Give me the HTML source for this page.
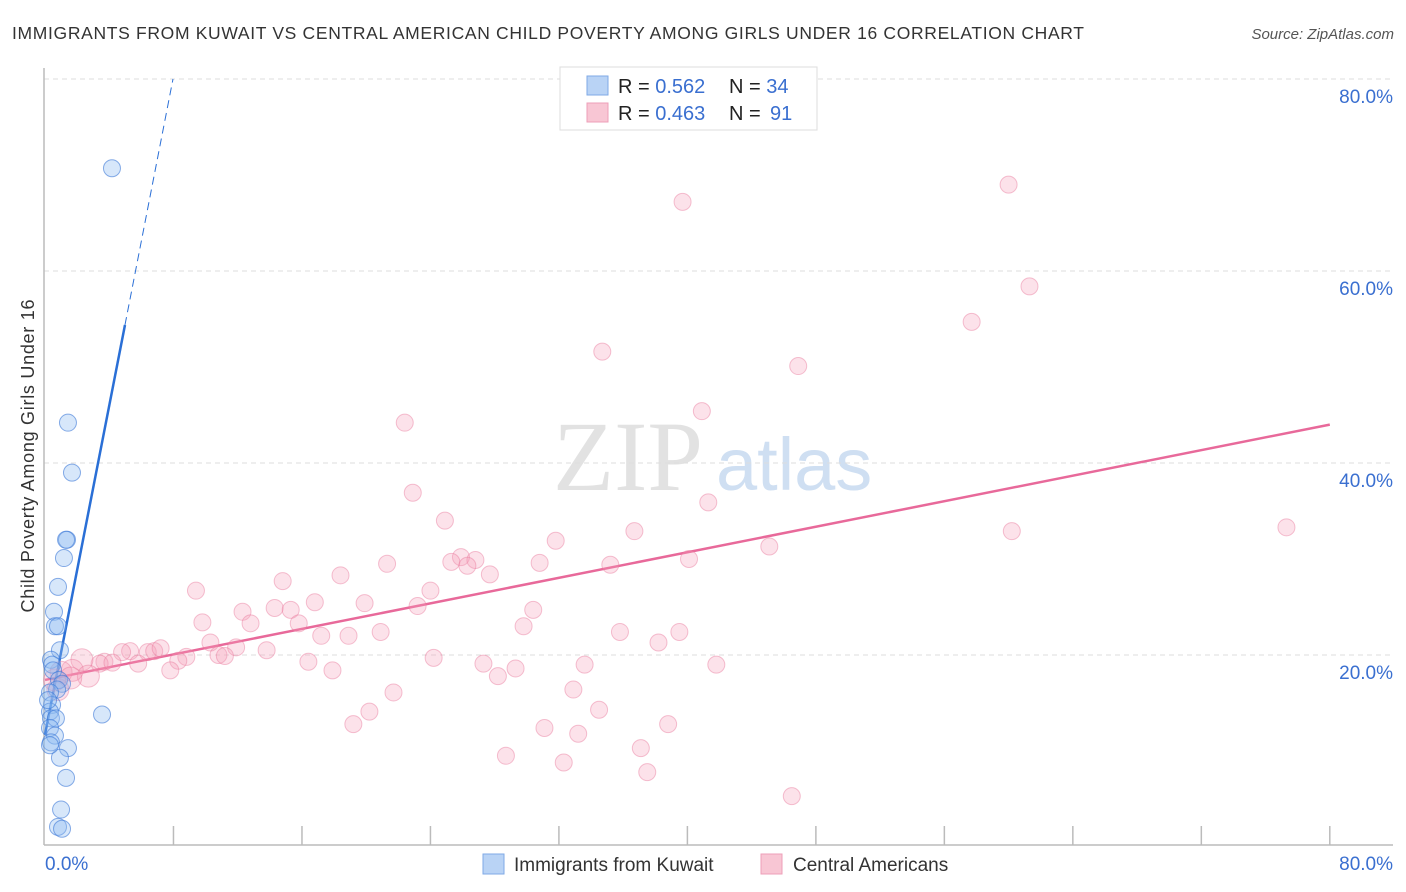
<!DOCTYPE html>
<html><head><meta charset="utf-8"><style>
body{margin:0;background:#fff;font-family:"Liberation Sans",sans-serif;}
#wrap{position:relative;width:1406px;height:892px;overflow:hidden;}
</style></head><body>
<div id="wrap">
<svg id="svg" width="1406" height="892" xmlns="http://www.w3.org/2000/svg">
<text x="12" y="39" font-size="17.5" fill="#333" textLength="1072" lengthAdjust="spacing">IMMIGRANTS FROM KUWAIT VS CENTRAL AMERICAN CHILD POVERTY AMONG GIRLS UNDER 16 CORRELATION CHART</text>
<text x="1394" y="39" font-size="15" fill="#555" font-style="italic" text-anchor="end">Source: ZipAtlas.com</text>
<text x="34" y="456" font-size="18" fill="#333" text-anchor="middle" textLength="313" lengthAdjust="spacing" transform="rotate(-90 34 456)">Child Poverty Among Girls Under 16</text>
<g>
<text x="553" y="490" font-size="100" fill="#e2e2e2" font-family="Liberation Serif,serif">ZIP</text>
<text x="716" y="490" font-size="74" fill="#cfdff2">atlas</text>
</g>
<g id="grid"></g><g id="axes"></g><g id="lines"></g><g id="pts"></g>
<g>
<rect x="560" y="67" width="257" height="63" fill="#fff" stroke="#ddd"/>
<rect x="587" y="76" width="21" height="19" fill="#b9d3f5" stroke="#7fa9e6"/>
<rect x="587" y="103" width="21" height="19" fill="#f8c6d4" stroke="#ee9fb8"/>
<text x="618" y="93" font-size="20" fill="#222">R = <tspan fill="#3a6fd0">0.562</tspan></text>
<text x="729" y="93" font-size="20" fill="#222">N = <tspan fill="#3a6fd0">34</tspan></text>
<text x="618" y="120" font-size="20" fill="#222">R = <tspan fill="#3a6fd0">0.463</tspan></text>
<text x="729" y="120" font-size="20" fill="#222">N = <tspan x="770" fill="#3a6fd0">91</tspan></text>
</g>
<g>
<rect x="483" y="854" width="21" height="20" fill="#b9d3f5" stroke="#7fa9e6"/>
<text x="514" y="871" font-size="19" fill="#333">Immigrants from Kuwait</text>
<rect x="761" y="854" width="21" height="20" fill="#f8c6d4" stroke="#ee9fb8"/>
<text x="793" y="871" font-size="19" fill="#333">Central Americans</text>
</g>
</svg>
</div>
<script>
const yTicks=[20,40,60,80];
const yTickLabels=["20.0%","40.0%","60.0%","80.0%"];
const xTicks=[8,16,24,32,40,48,56,64,72,80];
const blueX=[4.17,1.43,1.68,1.37,1.31,1.18,0.81,0.56,0.62,0.81,0.93,0.37,0.44,0.50,0.87,1.06,0.75,0.31,0.44,0.31,0.37,0.68,0.31,0.62,0.37,1.43,0.93,1.31,1.0,0.81,1.06,3.55,0.19,0.31];
const blueY=[70.7,44.2,39.0,32.0,32.0,30.1,27.1,24.5,23.0,23.0,20.5,19.5,19.0,18.4,17.4,17.0,16.4,16.1,14.8,14.1,13.4,13.4,12.4,11.6,10.9,10.3,9.3,7.2,3.9,2.1,1.9,13.8,15.3,10.6];
const pinkX=[39.7,60.0,61.3,57.7,34.7,46.9,40.9,22.4,41.3,77.3,60.2,22.9,24.9,36.7,31.8,40.1,45.1,25.9,25.3,26.8,26.3,21.3,27.7,18.4,35.2,30.8,24.0,14.8,9.4,16.8,19.9,23.2,30.4,12.3,14.3,15.3,9.8,12.8,15.8,29.8,20.9,17.2,18.9,35.8,39.5,10.3,11.9,38.2,13.8,5.3,4.8,6.4,6.8,7.2,8.8,8.3,10.8,11.2,3.7,3.4,4.2,2.3,5.8,7.8,16.4,24.2,27.3,29.3,33.6,41.8,17.9,28.2,1.7,1.0,2.7,0.8,21.7,32.9,34.5,20.2,19.2,38.8,31.1,33.2,37.1,28.7,32.3,37.5,46.5,1.6,0.6];
const pinkY=[67.2,69.0,58.4,54.7,51.6,50.1,45.4,44.2,35.9,33.3,32.9,36.9,34.0,32.9,31.9,30.0,31.3,30.2,29.7,29.9,29.3,29.5,28.4,28.3,29.4,29.6,26.7,27.7,26.7,25.5,25.4,25.1,24.7,24.5,24.9,24.7,23.4,23.3,23.3,23.0,22.4,22.0,22.0,22.4,22.4,21.3,20.8,21.3,20.5,20.4,20.3,20.3,20.4,20.7,19.8,19.4,20.0,19.9,19.3,19.1,19.2,19.5,19.1,18.4,19.3,19.7,19.1,18.6,19.0,19.0,18.4,17.8,18.4,18.2,17.8,16.4,16.1,16.4,14.3,14.1,12.8,12.8,12.4,11.8,10.3,9.5,8.8,7.8,5.3,17.6,17.4];
const blueLine=[11.7,8.57]; // intercept, slope
const blueSolidEnd=4.98, blueDashEnd=7.97;
const pinkLine=[17.4,0.3325];

const X=v=>45+v*16.06, Y=v=>847-v*9.6;
const NS="http://www.w3.org/2000/svg";
function mk(tag,attrs,parent){const e=document.createElementNS(NS,tag);for(const k in attrs)e.setAttribute(k,attrs[k]);document.getElementById(parent).appendChild(e);return e;}

yTicks.forEach((t,i)=>{
  const g=mk('line',{x1:44,x2:1393,y1:Y(t),y2:Y(t),stroke:'#ddd','stroke-dasharray':'5,4'},'grid');
  
  
  const l=mk('text',{x:1393,y:Y(t)+24,'font-size':19,fill:'#3a6fd0','text-anchor':'end'},'grid');
  l.textContent=yTickLabels[i];
  
  
});
let a=mk('line',{x1:44,x2:44,y1:68,y2:845,stroke:'#bbb','stroke-width':1.5},'axes');


a=mk('line',{x1:44,x2:1393,y1:845,y2:845,stroke:'#bbb','stroke-width':1.5},'axes');


xTicks.forEach(t=>{
  const k=mk('line',{x1:X(t),x2:X(t),y1:826,y2:845,stroke:'#bbb','stroke-width':1.5},'axes');
  
  
});
let xl=mk('text',{x:45,y:870,'font-size':19,fill:'#3a6fd0'},'axes');xl.textContent='0.0%';


xl=mk('text',{x:1393,y:870,'font-size':19,fill:'#3a6fd0','text-anchor':'end'},'axes');xl.textContent='80.0%';



pinkX.forEach((x,i)=>{
  const big=x<3;
  const c=mk('circle',{cx:X(x),cy:Y(pinkY[i]),r:big?11:8.5,fill:'rgba(244,160,185,0.3)',stroke:'rgba(232,120,155,0.45)','stroke-width':1},'pts');
  
  
});
blueX.forEach((x,i)=>{
  const c=mk('circle',{cx:X(x),cy:Y(blueY[i]),r:8.5,fill:'rgba(140,185,240,0.35)',stroke:'rgba(60,120,215,0.6)','stroke-width':1},'pts');
  
  
});
let ln=mk('line',{x1:X(0),y1:Y(pinkLine[0]),x2:X(80),y2:Y(pinkLine[0]+80*pinkLine[1]),stroke:'#e8699a','stroke-width':2.5},'lines');


ln=mk('line',{x1:X(0),y1:Y(blueLine[0]),x2:X(blueSolidEnd),y2:Y(blueLine[0]+blueSolidEnd*blueLine[1]),stroke:'#2a6fd6','stroke-width':2.5},'lines');


ln=mk('line',{x1:X(blueSolidEnd),y1:Y(blueLine[0]+blueSolidEnd*blueLine[1]),x2:X(blueDashEnd),y2:Y(blueLine[0]+blueDashEnd*blueLine[1]),stroke:'#2a6fd6','stroke-width':1,'stroke-dasharray':'8,5'},'lines');


</script>
</body></html>
